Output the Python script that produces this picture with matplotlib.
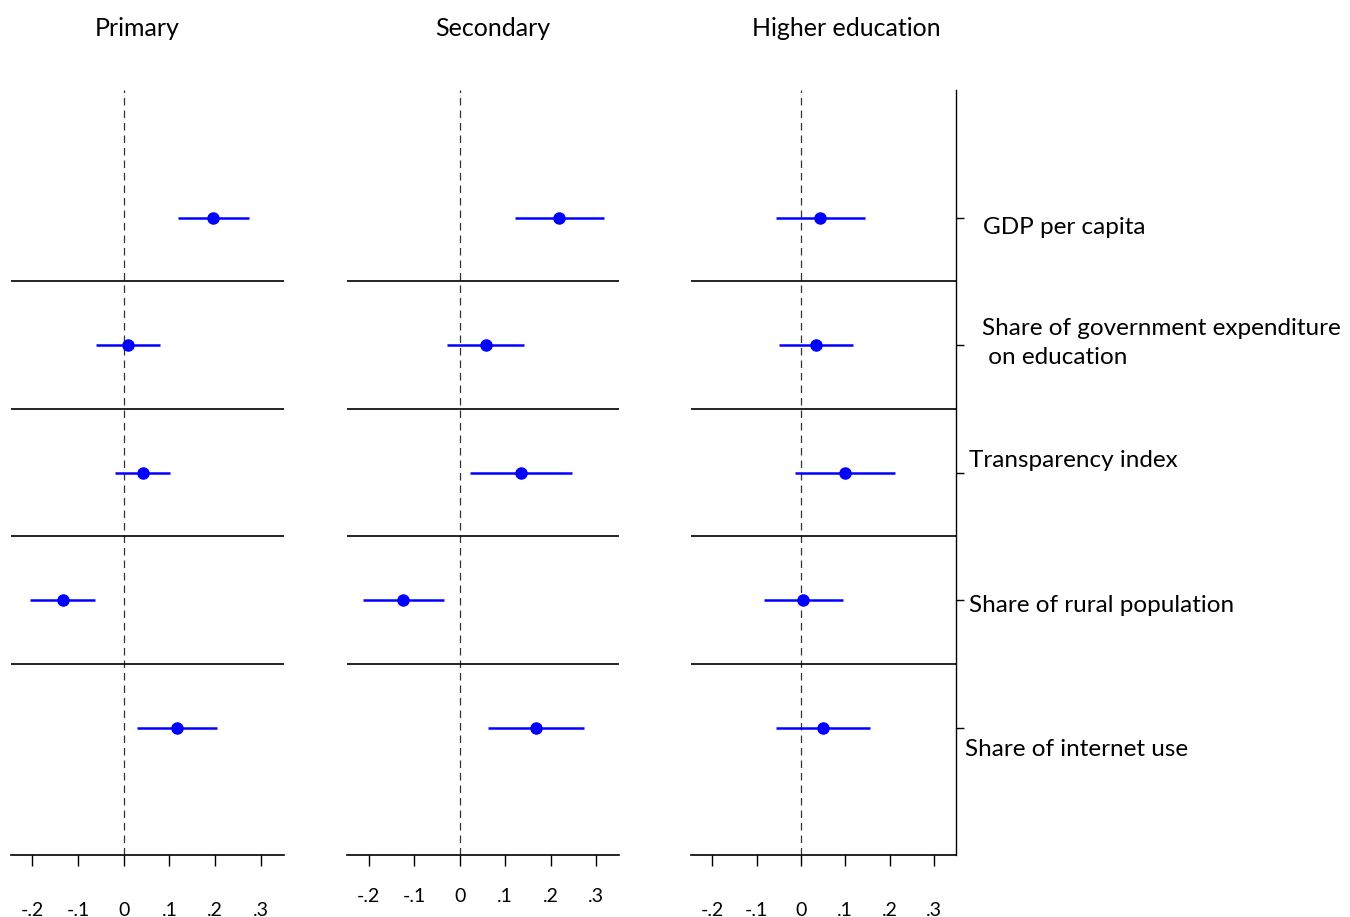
import matplotlib
matplotlib.use("Agg")
import matplotlib.pyplot as plt

plt.rcParams['font.family'] = ['Lato', 'DejaVu Sans']

panels = ["Primary", "Secondary", "Higher education"]
variables = ["GDP per capita", "Share of government expenditure\n on education",
             "Transparency index", "Share of rural population", "Share of internet use"]
# point estimates (rows: variables top to bottom)
est_primary = [0.195, 0.009, 0.042, -0.134, 0.117]
lo_primary = [0.118, -0.061, -0.020, -0.205, 0.030]
hi_primary = [0.275, 0.080, 0.102, -0.064, 0.204]

est_secondary = [0.218, 0.057, 0.135, -0.124, 0.167]
lo_secondary = [0.122, -0.028, 0.023, -0.212, 0.062]
hi_secondary = [0.316, 0.142, 0.247, -0.035, 0.274]

est_higher = [0.043, 0.034, 0.100, 0.004, 0.049]
lo_higher = [-0.057, -0.050, -0.014, -0.084, -0.057]
hi_higher = [0.144, 0.118, 0.213, 0.094, 0.156]

xticks = [-0.2, -0.1, 0, 0.1, 0.2, 0.3]
xticklabels = ["-.2", "-.1", "0", ".1", ".2", ".3"]

ests = [est_primary, est_secondary, est_higher]
los = [lo_primary, lo_secondary, lo_higher]
his = [hi_primary, hi_secondary, hi_higher]

W, H = 1350, 917
fig = plt.figure(figsize=(13.5, 9.17), dpi=100)

ax_px = [(10.5, 283.5), (347, 619), (691, 956)]
top_px, bot_px = 90, 855
pads = [26, 16, 26]
title_x = [137, 493, 846]

ypos = [5, 4, 3, 2, 1]
blue = (0, 0, 1)

for i in range(3):
    l, r = ax_px[i]
    ax = fig.add_axes([l / W, (H - bot_px) / H, (r - l) / W, (bot_px - top_px) / H])
    ax.set_xlim(-0.248, 0.350)
    ax.set_ylim(0, 6)
    for s in ["top", "left"]:
        ax.spines[s].set_visible(False)
    ax.spines["bottom"].set_linewidth(1.2)
    if i < 2:
        ax.spines["right"].set_visible(False)
        ax.set_yticks([])
    else:
        ax.spines["right"].set_linewidth(1.0)
        ax.yaxis.tick_right()
        ax.set_yticks(ypos)
        ax.set_yticklabels([])
        ax.tick_params(axis="y", length=6, width=1.0)
    ax.axvline(0, color="#333333", lw=0.9, ls=(0, (6, 4)), zorder=1)
    for yy in [1.5, 2.5, 3.5, 4.5]:
        ax.axhline(yy, color="black", lw=1.2, zorder=1)
    ax.hlines(ypos, los[i], his[i], color=blue, lw=1.8, zorder=3)
    ax.plot(ests[i], ypos, "o", color=blue, ms=8, zorder=4)
    ax.set_xticks(xticks)
    ax.set_xticklabels(xticklabels, fontsize=14)
    ax.tick_params(axis="x", length=8, width=1.0, pad=pads[i])
    fig.text(title_x[i] / W, 1 - 28 / H, panels[i], ha="center", va="center", fontsize=18)

label_pos = [(983, 227), (982, 343), (969, 461), (969, 605), (965, 750)]
for name, (x, y) in zip(variables, label_pos):
    fig.text(x / W, 1 - y / H, name, ha="left", va="center", fontsize=17.5, linespacing=1.5)

fig.savefig("out.png", dpi=100)
